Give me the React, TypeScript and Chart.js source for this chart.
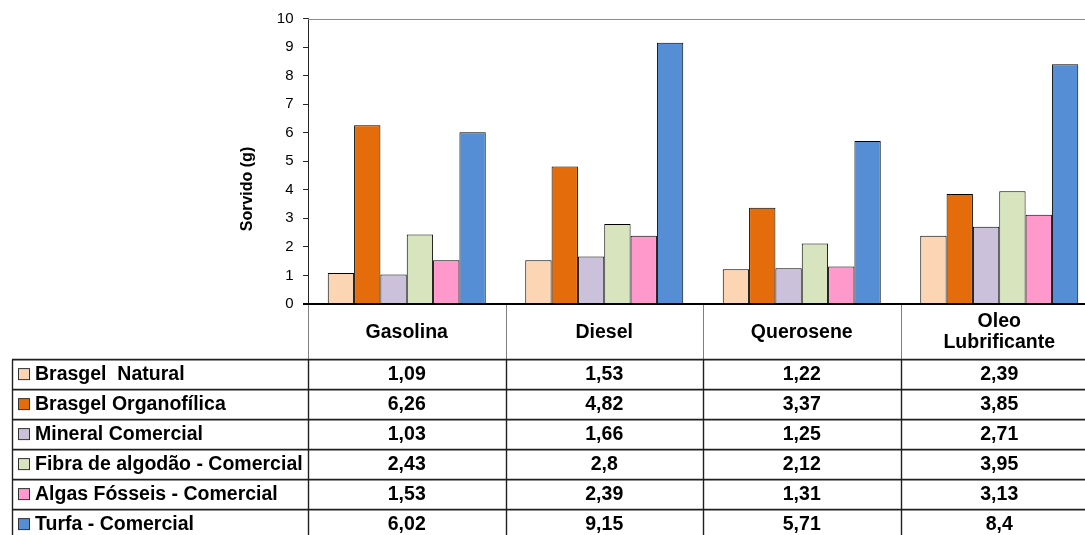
import React, { useEffect, useRef } from "react";
import { Chart, registerables } from "chart.js";

Chart.register(...registerables);

// Fuel categories (the last one spans two lines in the header)
const categories: (string | string[])[] = ["Gasolina", "Diesel", "Querosene", ["Oleo", "Lubrificante"]];

// Sorbent series names
const seriesNames = [
  "Brasgel  Natural",
  "Brasgel Organofílica",
  "Mineral Comercial",
  "Fibra de algodão - Comercial",
  "Algas Fósseis - Comercial",
  "Turfa - Comercial",
];

// Sorbed mass (g) per fuel
const brasgelNatural = [1.09, 1.53, 1.22, 2.39];
const brasgelOrganofilica = [6.26, 4.82, 3.37, 3.85];
const mineralComercial = [1.03, 1.66, 1.25, 2.71];
const fibraAlgodao = [2.43, 2.8, 2.12, 3.95];
const algasFosseis = [1.53, 2.39, 1.31, 3.13];
const turfa = [6.02, 9.15, 5.71, 8.4];

const seriesValues = [brasgelNatural, brasgelOrganofilica, mineralComercial, fibraAlgodao, algasFosseis, turfa];
const seriesColors = ["#FCD5B5", "#E46C0A", "#CCC1DA", "#D7E4BD", "#FF99CC", "#558ED5"];

const yAxisTitle = "Sorvido (g)";
const yMin = 0;
const yMax = 10;
const yStep = 1;

const FONT = "'Liberation Sans', Arial, sans-serif";
const TABLE_FONT = `bold 19.5px ${FONT}`;

const formatValue = (v: number) => String(v).replace(".", ",");

// Draws the y-axis title, the plot frame, the x-axis line and the data table under the bars
const dataTablePlugin = {
  id: "dataTable",
  afterDraw(chart: any) {
    const { ctx, chartArea } = chart;
    const xScale = chart.scales.x;
    const n = categories.length;
    const colW = (xScale.right - xScale.left) / n;
    const top = chartArea.bottom;
    const headerBottom = top + 55.6;
    const rowH = 30;
    const tableLeft = 12;
    const tableBottom = headerBottom + seriesNames.length * rowH;

    ctx.save();

    // plot frame top line
    ctx.strokeStyle = "#8c8c8c";
    ctx.lineWidth = 1;
    ctx.beginPath();
    ctx.moveTo(chartArea.left, Math.round(chartArea.top) + 0.5);
    ctx.lineTo(chartArea.right, Math.round(chartArea.top) + 0.5);
    ctx.stroke();

    // vertical cell borders in header area
    ctx.strokeStyle = "#7f7f7f";
    ctx.lineWidth = 1;
    for (let i = 0; i <= n; i++) {
      const x = Math.round(xScale.left + i * colW) + 0.5;
      ctx.beginPath();
      ctx.moveTo(x, top);
      ctx.lineTo(x, headerBottom);
      ctx.stroke();
    }

    // vertical cell borders in body
    ctx.strokeStyle = "#1f1f1f";
    ctx.lineWidth = 1.4;
    const bodyXs = [tableLeft];
    for (let i = 0; i <= n; i++) bodyXs.push(xScale.left + i * colW);
    bodyXs.forEach((bx) => {
      const x = Math.round(bx) + 0.5;
      ctx.beginPath();
      ctx.moveTo(x, headerBottom);
      ctx.lineTo(x, tableBottom);
      ctx.stroke();
    });

    // horizontal row borders
    ctx.strokeStyle = "#1f1f1f";
    ctx.lineWidth = 1.6;
    for (let r = 0; r <= seriesNames.length; r++) {
      const y = headerBottom + r * rowH;
      ctx.beginPath();
      ctx.moveTo(tableLeft, y);
      ctx.lineTo(xScale.right, y);
      ctx.stroke();
    }

    // x axis line
    ctx.strokeStyle = "#000";
    ctx.lineWidth = 2;
    ctx.beginPath();
    ctx.moveTo(chartArea.left - 5, top);
    ctx.lineTo(chartArea.right, top);
    ctx.stroke();

    // category headers
    ctx.fillStyle = "#000";
    ctx.font = TABLE_FONT;
    ctx.textAlign = "center";
    ctx.textBaseline = "middle";
    const headerMid = (top + headerBottom) / 2 + 0.5;
    categories.forEach((cat, i) => {
      const cx = xScale.left + (i + 0.5) * colW;
      const lines = Array.isArray(cat) ? cat : [cat];
      const lh = 21.6;
      lines.forEach((line, k) => {
        const y = headerMid + (k - (lines.length - 1) / 2) * lh;
        ctx.fillText(line, cx, y);
      });
    });

    // rows: legend key + values
    seriesNames.forEach((name, r) => {
      const cy = headerBottom + r * rowH + rowH / 2;
      // swatch
      ctx.fillStyle = seriesColors[r];
      ctx.fillRect(18.5, cy - 6, 11, 11);
      ctx.strokeStyle = "#333";
      ctx.lineWidth = 1;
      ctx.strokeRect(18.5, cy - 6, 11, 11);
      // name
      ctx.fillStyle = "#000";
      ctx.textAlign = "left";
      ctx.fillText(name, 35, cy);
      // values
      ctx.textAlign = "center";
      seriesValues[r].forEach((v, i) => {
        const cx = xScale.left + (i + 0.5) * colW;
        ctx.fillText(formatValue(v), cx, cy);
      });
    });

    // y axis title
    ctx.save();
    ctx.translate(247.5, 189);
    ctx.rotate(-Math.PI / 2);
    ctx.font = `bold 16px ${FONT}`;
    ctx.textAlign = "center";
    ctx.textBaseline = "middle";
    ctx.fillStyle = "#000";
    ctx.fillText(yAxisTitle, 0, 0);
    ctx.restore();

    ctx.restore();
  },
};

export default function App() {
  const canvasRef = useRef<HTMLCanvasElement | null>(null);

  useEffect(() => {
    if (!canvasRef.current) return;
    const chart = new Chart(canvasRef.current, {
      type: "bar",
      data: {
        labels: categories,
        datasets: seriesNames.map((name, i) => ({
          label: name,
          data: seriesValues[i],
          backgroundColor: seriesColors[i],
          borderColor: "#000",
          borderWidth: 1,
          categoryPercentage: 0.8,
          barPercentage: 1.0,
        })),
      },
      options: {
        responsive: false,
        animation: false,
        devicePixelRatio: 1,
        layout: { padding: { left: 0, top: 17, right: 2, bottom: 241 } },
        plugins: {
          legend: { display: false },
          tooltip: { enabled: false },
          title: { display: false },
        },
        scales: {
          x: { display: false },
          y: {
            min: yMin,
            max: yMax,
            ticks: {
              stepSize: yStep,
              color: "#000",
              font: { family: FONT, size: 15 },
              padding: 9.5,
            },
            grid: {
              display: true,
              drawOnChartArea: false,
              drawTicks: true,
              tickLength: 5,
              color: "#262626",
            },
            border: { display: true, color: "#262626", width: 1 },
            afterFit: (scale: any) => {
              scale.width = 308;
            },
          },
        },
      },
      plugins: [dataTablePlugin],
    });
    return () => chart.destroy();
  }, []);

  return (
    <div
      style={{
        position: "fixed",
        left: 0,
        top: 0,
        width: "100vw",
        height: "100vh",
        overflow: "hidden",
        background: "#fff",
      }}
    >
      <canvas ref={canvasRef} width={1100} height={545} style={{ display: "block" }} />
    </div>
  );
}
